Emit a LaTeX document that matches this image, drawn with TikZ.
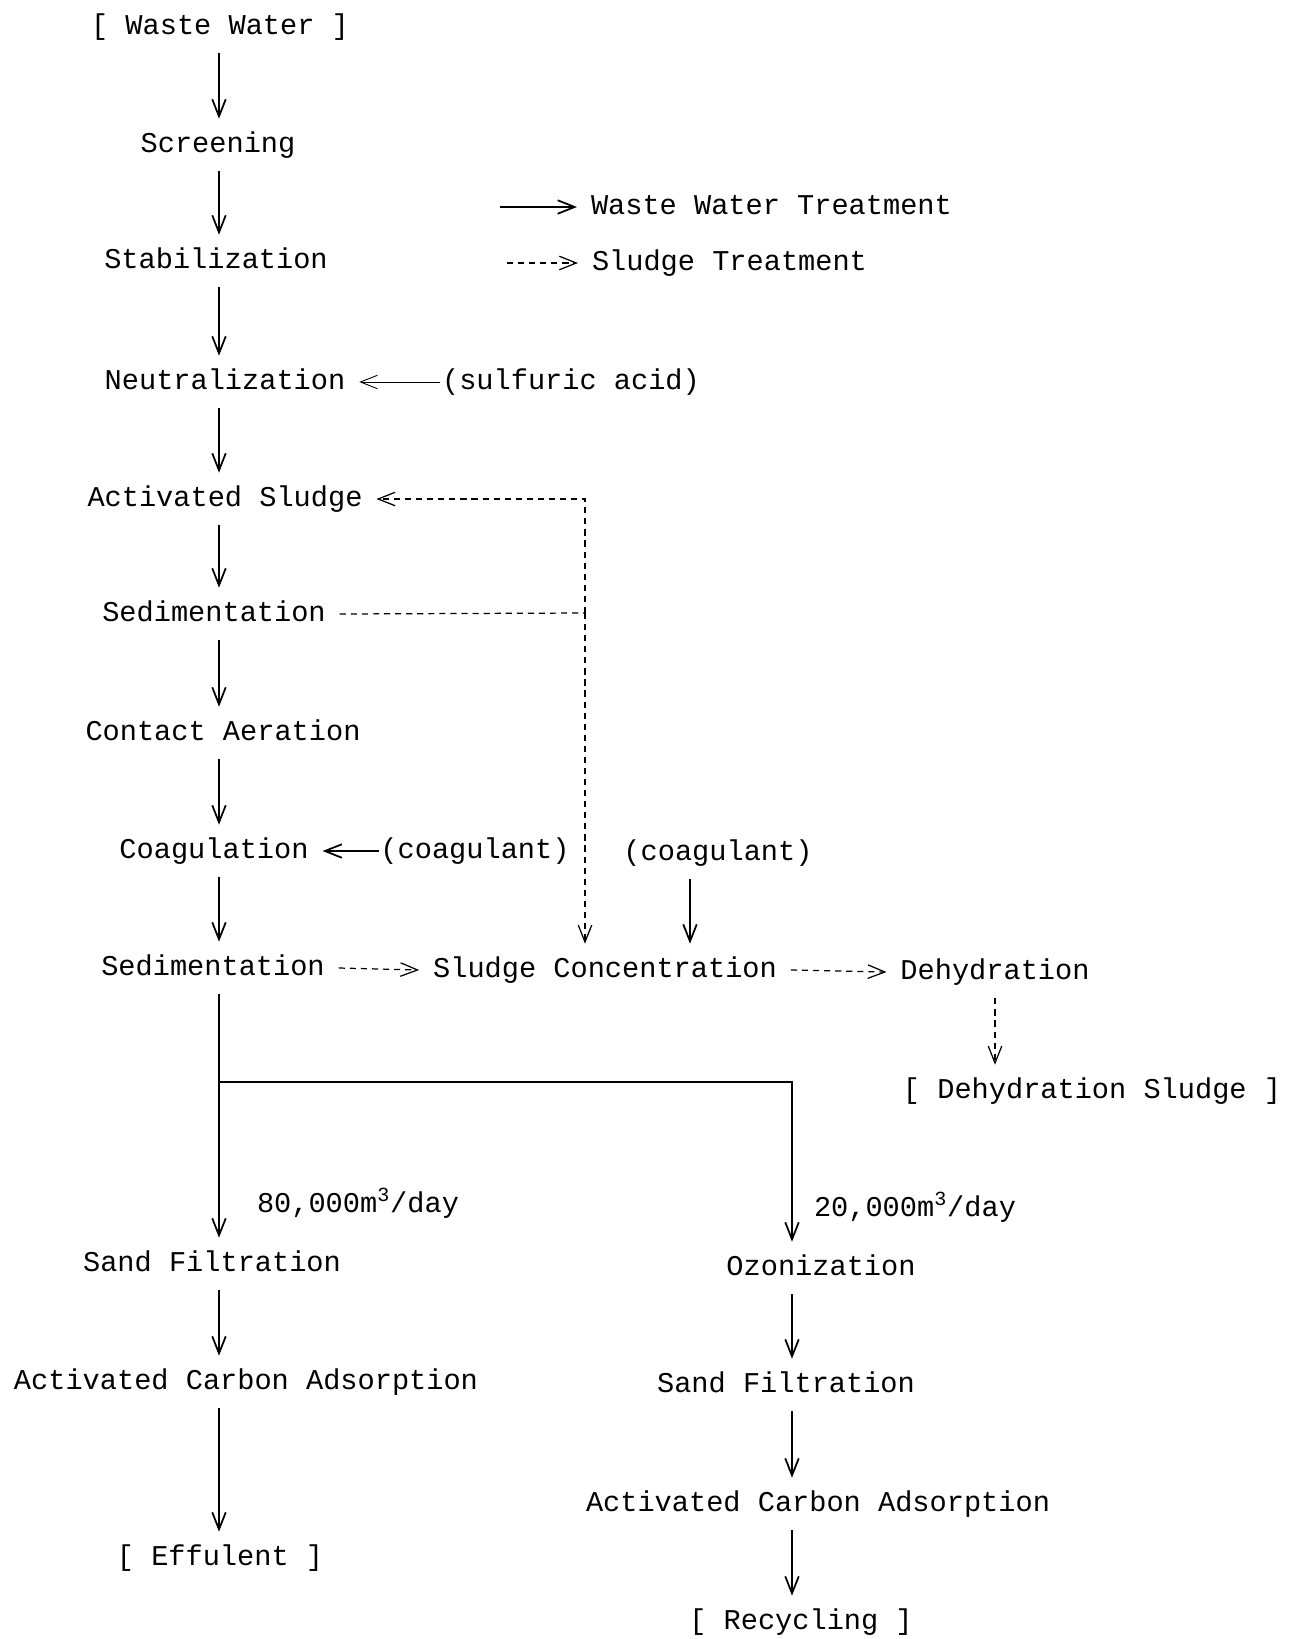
\documentclass[tikz,border=0pt]{standalone}
\usepackage{fontspec}
\setmainfont{Liberation Mono}
\usetikzlibrary{arrows.meta}

\begin{document}
\begin{tikzpicture}[x=0.02cm, y=-0.02cm]
	\tikzstyle{every node}=[font=\fontsize{16.3}{20}\selectfont, inner sep=0pt, outer sep=0.28cm, text height=11pt, text depth=3pt]
	\tikzstyle{water}=[line width=1pt, -{Straight Barb[length=3.4mm, width=2.7mm]}]
	\tikzstyle{sludge}=[line width=0.7pt, dash pattern=on 3.5pt off 2.8pt, -{Straight Barb[length=3.4mm, width=2.7mm]}]
	\useasboundingbox (0,0) rectangle (1292,1639);
	\coordinate (col) at (219,0);
	\coordinate (rcol) at (792,0);
	\coordinate (cgx) at (690,0);

	% main line
	\node (ww) at (220,27) {[ Waste Water ]};
	\node (scr) at (218,145) {Screening};
	\node (stab) at (216,261) {Stabilization};
	\node (neut) at (225,382) {Neutralization};
	\node (as) at (225,499) {Activated Sludge};
	\node (sed1) at (214,614) {Sedimentation};
	\node (ca) at (223,733) {Contact Aeration};
	\node (coag) at (214,851) {Coagulation};
	\node (sed2) at (213,968) {Sedimentation};
	\draw[water] (col |- ww.south) -- (col |- scr.north);
	\draw[water] (col |- scr.south) -- (col |- stab.north);
	\draw[water] (col |- stab.south) -- (col |- neut.north);
	\draw[water] (col |- neut.south) -- (col |- as.north);
	\draw[water] (col |- as.south) -- (col |- sed1.north);
	\draw[water] (col |- sed1.south) -- (col |- ca.north);
	\draw[water] (col |- ca.south) -- (col |- coag.north);
	\draw[water] (col |- coag.south) -- (col |- sed2.north);

	% chemicals
	\node[outer sep=1pt] (sulf) at (571,382) {(sulfuric acid)};
	\draw[water, line width=0.5pt] (sulf.west) -- (neut.east);
	\node[outer sep=1pt] (cgl) at (475,851) {(coagulant)};
	\draw[water] (cgl.west) -- (coag.east);
	\node (cgr) at (718,853) {(coagulant)};

	% legend
	\coordinate (lw) at (500,207);
	\node[anchor=west] (lgw) at (577,207) {Waste Water Treatment};
	\draw[water] (lw) -- (lgw.west);
	\coordinate (ls) at (507,263);
	\node[anchor=west] (lgs) at (578,263) {Sludge Treatment};
	\draw[sludge] (ls) -- (lgs.west);

	% sludge line
	\node (slc) at (605,970) {Sludge Concentration};
	\node (dehy) at (995,972) {Dehydration};
	\node (dsl) at (1092,1091) {[ Dehydration Sludge ]};
	\coordinate (jn) at (585,613);
	\draw[sludge, -] (sed1.east) -- (jn);
	\draw[sludge] (jn) |- (as.east);
	\draw[sludge] (jn) -- (jn |- slc.north);
	\draw[water] (cgx |- cgr.south) -- (cgx |- slc.north);
	\draw[sludge] (sed2.east) -- (slc.west);
	\draw[sludge] (slc.east) -- (dehy.west);
	\draw[sludge] (dehy.south) -- (dehy.south |- dsl.north);

	% split
	\node (sf1) at (212,1264) {Sand Filtration};
	\node (acl) at (246,1382) {Activated Carbon Adsorption};
	\node (eff) at (220,1558) {[ Effulent ]};
	\node (oz) at (821,1268) {Ozonization};
	\node (sf2) at (786,1385) {Sand Filtration};
	\node (acr) at (818,1504) {Activated Carbon Adsorption};
	\node (rec) at (801,1622) {[ Recycling ]};
	\coordinate (br) at (219,1082);
	\draw[water] (col |- sed2.south) -- (col |- sf1.north);
	\draw[water] (br) -| (rcol |- oz.north);
	\node[anchor=west] (q1) at (243,1205) {80,000m\textsuperscript{3}/day};
	\node[anchor=west] (q2) at (800,1209) {20,000m\textsuperscript{3}/day};
	\draw[water] (col |- sf1.south) -- (col |- acl.north);
	\draw[water] (col |- acl.south) -- (col |- eff.north);
	\draw[water] (rcol |- oz.south) -- (rcol |- sf2.north);
	\draw[water] (rcol |- sf2.south) -- (rcol |- acr.north);
	\draw[water] (rcol |- acr.south) -- (rcol |- rec.north);
\end{tikzpicture}
\end{document}
